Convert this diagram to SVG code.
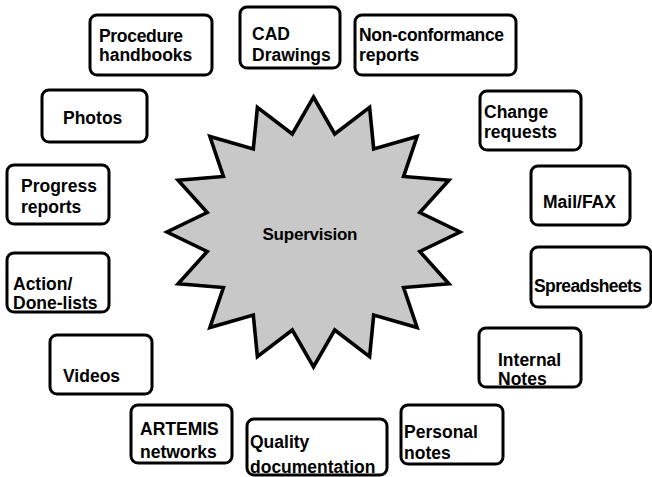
<svg xmlns="http://www.w3.org/2000/svg" width="652" height="477" viewBox="0 0 652 477">
<style>
.box{fill:#fff;stroke:#000;stroke-width:3}
.lbl{font-family:"Liberation Sans",Arial,sans-serif;font-weight:bold;font-size:17.5px;fill:#000}
.star{fill:#c8c8c8;stroke:#000;stroke-width:3.6;stroke-linejoin:miter}
.ctr{font-family:"Liberation Sans",Arial,sans-serif;font-weight:bold;font-size:17px;fill:#000}
</style>
<rect width="652" height="477" fill="#fff"/>
<g id="connectors"></g>
<g id="supervision">
<polygon class="star" transform="translate(313.5,232)" points="0,-135 21.2,-98 56.1,-124.7 60.2,-83.1 103.6,-95.5 90.1,-55.5 135.4,-51.7 106.3,-19.5 146.5,0 106.3,19.5 135.4,51.7 90.1,55.5 103.6,95.5 60.2,83.1 56.1,124.7 21.2,98 0,135 -21.2,98 -56.1,124.7 -60.2,83.1 -103.6,95.5 -90.1,55.5 -135.4,51.7 -106.3,19.5 -146.5,0 -106.3,-19.5 -135.4,-51.7 -90.1,-55.5 -103.6,-95.5 -60.2,-83.1 -56.1,-124.7 -21.2,-98"/>
<text class="ctr" x="310" y="240" text-anchor="middle" textLength="95">Supervision</text>
</g>
<g id="procedure"><rect class="box" x="90" y="15" width="122" height="60" rx="7"/><text class="lbl" x="99" y="42" textLength="84">Procedure</text><text class="lbl" x="99" y="61">handbooks</text></g>
<g id="cad"><rect class="box" x="240" y="7" width="100" height="61" rx="7"/><text class="lbl" x="252" y="40">CAD</text><text class="lbl" x="252" y="61">Drawings</text></g>
<g id="nonconf"><rect class="box" x="355" y="15" width="161" height="60" rx="7"/><text class="lbl" x="359" y="41" textLength="145">Non-conformance</text><text class="lbl" x="359" y="61">reports</text></g>
<g id="photos"><rect class="box" x="42" y="90" width="105" height="52" rx="7"/><text class="lbl" x="63" y="124">Photos</text></g>
<g id="change"><rect class="box" x="480" y="91" width="101" height="59" rx="7"/><text class="lbl" x="484" y="118">Change</text><text class="lbl" x="484" y="138">requests</text></g>
<g id="progress"><rect class="box" x="7" y="165" width="102" height="59" rx="7"/><text class="lbl" x="21" y="192">Progress</text><text class="lbl" x="21" y="213">reports</text></g>
<g id="mail"><rect class="box" x="531" y="166" width="99" height="59" rx="7"/><text class="lbl" x="543" y="208">Mail/FAX</text></g>
<g id="action"><rect class="box" x="7" y="253" width="102" height="59" rx="7"/><text class="lbl" x="13" y="290">Action/</text><text class="lbl" x="13" y="309">Done-lists</text></g>
<g id="spreadsheets"><rect class="box" x="531" y="247" width="120" height="60" rx="7"/><text class="lbl" x="534" y="292" textLength="108">Spreadsheets</text></g>
<g id="videos"><rect class="box" x="50" y="335" width="102" height="59" rx="7"/><text class="lbl" x="63" y="382">Videos</text></g>
<g id="internal"><rect class="box" x="479" y="328" width="102" height="59" rx="7"/><text class="lbl" x="498" y="366">Internal</text><text class="lbl" x="498" y="385">Notes</text></g>
<g id="artemis"><rect class="box" x="131" y="405" width="101" height="58" rx="7"/><text class="lbl" x="140" y="435">ARTEMIS</text><text class="lbl" x="140" y="458">networks</text></g>
<g id="quality"><rect class="box" x="247" y="419" width="140" height="56" rx="7"/><text class="lbl" x="250" y="448">Quality</text><text class="lbl" x="250" y="473">documentation</text></g>
<g id="personal"><rect class="box" x="401" y="405" width="102" height="59" rx="7"/><text class="lbl" x="404" y="438">Personal</text><text class="lbl" x="404" y="459">notes</text></g>
</svg>
